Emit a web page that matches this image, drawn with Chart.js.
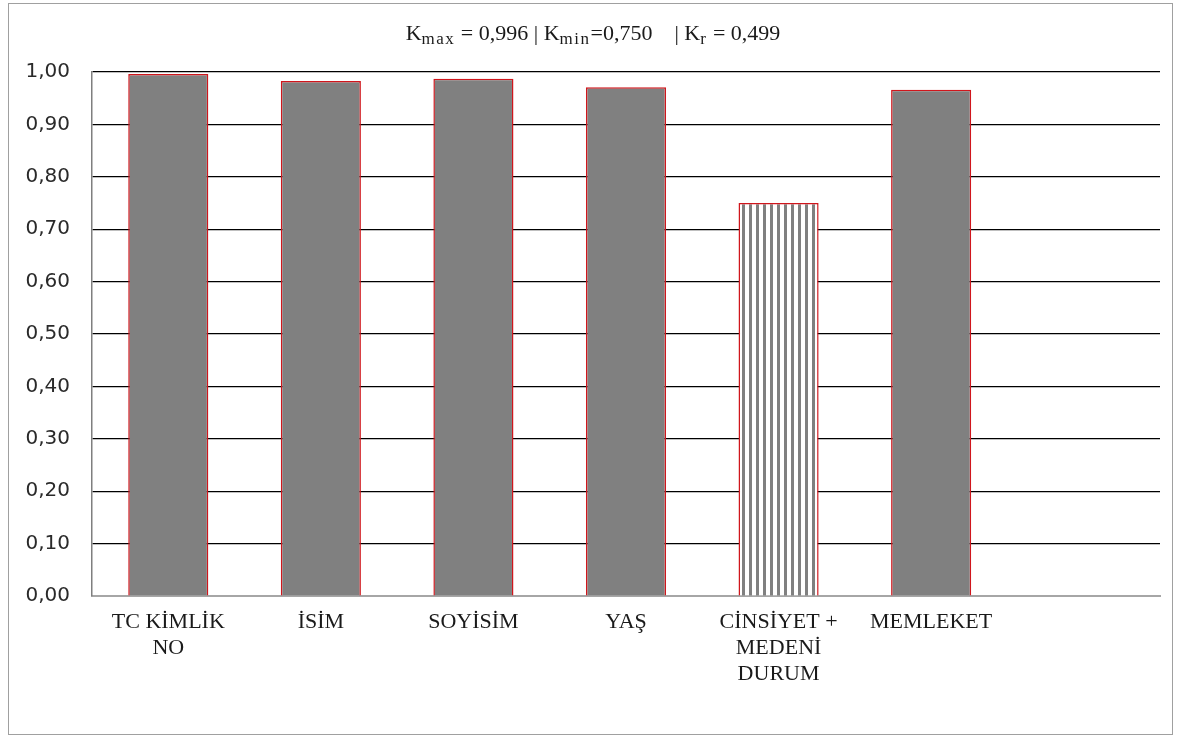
<!DOCTYPE html>
<html>
<head>
<meta charset="utf-8">
<script src="https://cdn.jsdelivr.net/npm/chart.js@4/dist/chart.umd.min.js"></script>
<style>
  html, body { margin: 0; padding: 0; background: #fff; }
  #wrap { position: relative; width: 1181px; height: 738px; }
  #frame { position: absolute; left: 8px; top: 3px; width: 1163px; height: 730px; border: 1px solid #a0a0a0; pointer-events: none; }
  #title { position: absolute; left: 0; width: 1186px; top: 20px; text-align: center; font-family: "Liberation Serif", serif; font-size: 22px; color: #1a1a1a; white-space: pre; }
  #title sub { font-size: 17px; letter-spacing: 1.5px; vertical-align: -4px; }
  canvas { position: absolute; left: 0; top: 0; }
</style>
</head>
<body>
<div id="wrap">
  <canvas id="chart" width="1181" height="738"></canvas>
  <div id="frame"></div>
  <div id="title">K<sub>max</sub> = 0,996 | K<sub>min</sub>=0,750    | K<sub>r</sub> = 0,499</div>
</div>
<script>
const categories = [["TC KİMLİK", "NO"], "İSİM", "SOYİSİM", "YAŞ", ["CİNSİYET +", "MEDENİ", "DURUM"], "MEMLEKET", ""];
const values = [0.996, 0.983, 0.987, 0.971, 0.750, 0.966, null];
const yTicks = [0, 0.1, 0.2, 0.3, 0.4, 0.5, 0.6, 0.7, 0.8, 0.9, 1.0];

// vertical stripe pattern for the lowest bar
function stripes() {
    const c = document.createElement("canvas");
    c.width = 7;
    c.height = 10;
    const ctx = c.getContext("2d");
    ctx.fillStyle = "#ffffff";
    ctx.fillRect(0, 0, 7, 10);
    ctx.fillStyle = "#808080";
    ctx.fillRect(0, 0, 3, 10);
    return ctx.createPattern(c, "repeat");
}
const pattern = stripes();
const fills = values.map(v => (v === 0.750 ? pattern : "#808080"));

new Chart(document.getElementById("chart"), {
    type: "bar",
    data: {
        labels: categories,
        datasets: [
            {
                data: values,
                backgroundColor: fills,
                borderColor: "#d0161c",
                borderWidth: 1.5,
                borderSkipped: "bottom",
                categoryPercentage: 1,
                barPercentage: 0.525,
            },
        ],
    },
    options: {
        responsive: false,
        animation: false,
        layout: { padding: { top: 72, right: 21, left: 0, bottom: 0 } },
        plugins: { legend: { display: false }, tooltip: { enabled: false } },
        scales: {
            x: {
                grid: { display: false, drawTicks: false },
                border: { color: "#a6a6a6", width: 2 },
                ticks: {
                    color: "#1a1a1a",
                    padding: 13,
                    maxRotation: 0,
                    autoSkip: false,
                    font: { family: "Liberation Serif", size: 22, lineHeight: 1.18 },
                },
                afterFit: s => { s.height = 142; },
            },
            y: {
                min: 0,
                max: 1,
                afterBuildTicks: s => { s.ticks = yTicks.map(v => ({ value: v })); },
                grid: { color: "#000", lineWidth: 1.2, drawTicks: false },
                border: { color: "#7f7f7f", width: 1.5 },
                ticks: {
                    color: "#2a2a2a",
                    padding: 22,
                    font: { family: "DejaVu Sans", size: 20 },
                    callback: v => v.toFixed(2).replace(".", ","),
                },
                afterFit: s => { s.width = 92; },
            },
        },
    },
});
</script>
</body>
</html>
